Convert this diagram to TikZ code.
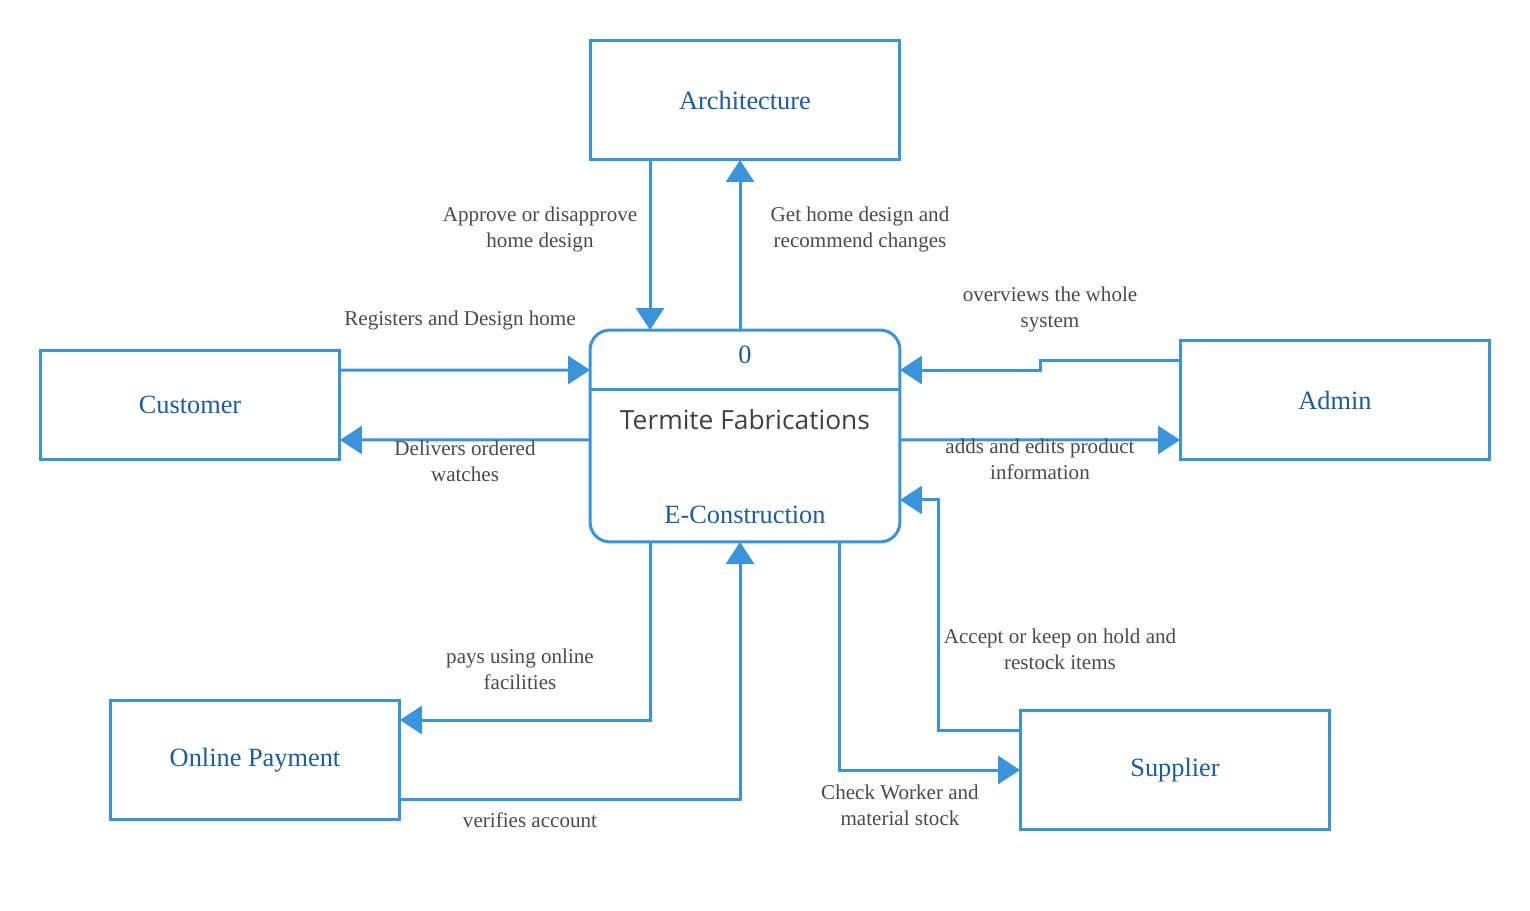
\documentclass[tikz,border=0pt]{standalone}
\usepackage{fontspec}
\setmainfont{Liberation Serif}
\newfontfamily\sansf{Open Sans}
\usetikzlibrary{arrows.meta}
\definecolor{lineblue}{HTML}{3A94DC}
\definecolor{textblue}{HTML}{1C5D9C}
\definecolor{labelgray}{HTML}{4A4A4A}
\definecolor{titlegray}{HTML}{404040}
\tikzset{
  entity/.style={draw=lineblue, line width=0.06cm, fill=white, inner sep=0pt, outer sep=0pt,
    text=textblue, font=\fontsize{15}{18}\selectfont},
  procbox/.style={draw=lineblue, line width=0.06cm, rounded corners=0.4cm, inner sep=0pt, outer sep=0pt,
    minimum width=6.2cm, minimum height=4.24cm},
  flow/.style={draw=lineblue, line width=0.06cm, -{Triangle[length=0.44cm,width=0.56cm]}},
  lbl/.style={text=labelgray, align=center, inner sep=0pt, font=\fontsize{12}{14.8}\selectfont},
  ptext/.style={text=textblue, inner sep=0pt, font=\fontsize{15}{18}\selectfont}
}
\begin{document}
\begin{tikzpicture}[x=0.02cm, y=-0.02cm]
\useasboundingbox (0,0) rectangle (1530,911);
% entities
\node[entity, minimum width=6.2cm, minimum height=2.4cm] (arch) at (745,100) {Architecture};
\node[entity, minimum width=6cm, minimum height=2.2cm] (cust) at (190,405) {Customer};
\node[entity, minimum width=6.2cm, minimum height=2.4cm] (admin) at (1335,400) {Admin};
\node[entity, minimum width=5.8cm, minimum height=2.4cm] (pay) at (255,760) {Online Payment};
\node[entity, minimum width=6.2cm, minimum height=2.4cm] (sup) at (1175,770) {Supplier};
% process
\node[procbox] (proc) at (745,436) {};
\coordinate (div) at (745,390);
\draw[draw=lineblue, line width=0.06cm] (div -| proc.west) -- (div -| proc.east);
\node[ptext] (pnum) at (745,355) {0};
\node[text=titlegray, inner sep=0pt, font=\sansf\fontsize{15}{18}\selectfont] (ptitle) at (745,420) {Termite Fabrications};
\node[ptext] (pname) at (745,515) {E-Construction};
% flows
\draw[flow] ([xshift=-1.9cm]arch.south) -- ([xshift=-1.9cm]proc.north);
\draw[flow] ([xshift=-0.1cm]proc.north) -- ([xshift=-0.1cm]arch.south);
\draw[flow] ([yshift=0.7cm]cust.east) -- ([yshift=1.32cm]proc.west);
\draw[flow] ([yshift=-0.08cm]proc.west) -- ([yshift=-0.7cm]cust.east);
\draw[flow] ([yshift=0.8cm]admin.west) -- ++(-2.8cm,0cm) |- ([yshift=1.32cm]proc.east);
\draw[flow] ([yshift=-0.08cm]proc.east) -- ([yshift=-0.8cm]admin.west);
\draw[flow] ([yshift=0.8cm]sup.west) -- ++(-1.64cm,0cm) |- ([yshift=-1.28cm]proc.east);
\draw[flow] ([xshift=1.9cm]proc.south) |- (sup.west);
\draw[flow] ([xshift=-1.9cm]proc.south) |- ([yshift=0.8cm]pay.east);
\draw[flow] ([yshift=-0.8cm]pay.east) -| ([xshift=-0.1cm]proc.south);
% labels
\node[lbl] (l1) at (540,229) {Approve or disapprove\\home design};
\node[lbl] (l2) at (860,229) {Get home design and\\recommend changes};
\node[lbl] (l3) at (460,320) {Registers and Design home};
\node[lbl] (l4) at (465,461) {Delivers ordered\\watches};
\node[lbl] (l5) at (1050,309) {overviews the whole\\system};
\node[lbl] (l6) at (1040,459) {adds and edits product\\information};
\node[lbl] (l7) at (1060,649) {Accept or keep on hold and\\restock items};
\node[lbl] (l8) at (520,669) {pays using online\\facilities};
\node[lbl] (l9) at (900,805) {Check Worker and\\material stock};
\node[lbl] (l10) at (530,820) {verifies account};
\end{tikzpicture}
\end{document}
